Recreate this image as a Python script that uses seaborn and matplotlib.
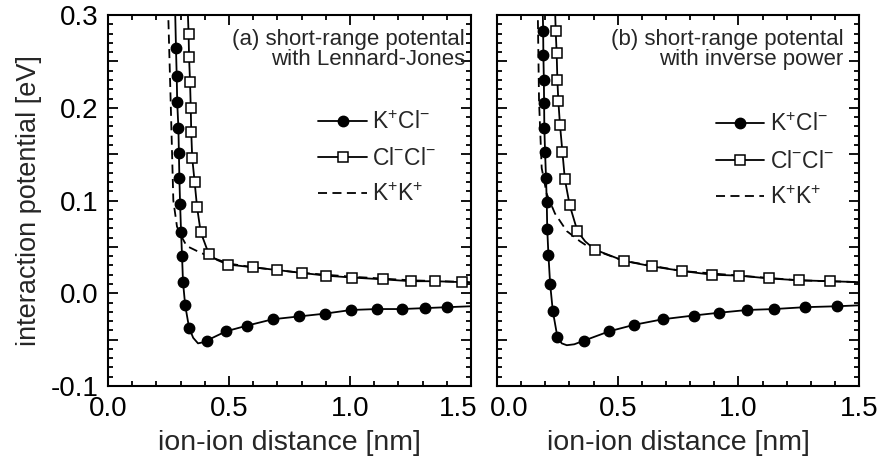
import matplotlib
matplotlib.use("Agg")
import matplotlib.pyplot as plt
from matplotlib.ticker import MultipleLocator, FuncFormatter
from matplotlib.transforms import ScaledTranslation
import seaborn as sns

# (a) Lennard-Jones short-range potential: markers
kcl_a_mx = [0.281, 0.284, 0.286, 0.291, 0.293, 0.295, 0.298, 0.302, 0.306, 0.310, 0.319, 0.335,
            0.408, 0.488, 0.573, 0.681, 0.788, 0.895, 1.005, 1.112, 1.214, 1.309, 1.402]
kcl_a_my = [0.264, 0.234, 0.206, 0.178, 0.151, 0.124, 0.096, 0.066, 0.040, 0.012, -0.013, -0.037,
            -0.051, -0.041, -0.035, -0.028, -0.025, -0.022, -0.018, -0.017, -0.017, -0.016, -0.015]
clcl_a_mx = [0.333, 0.335, 0.339, 0.342, 0.344, 0.348, 0.358, 0.368, 0.383, 0.417,
             0.495, 0.600, 0.700, 0.800, 0.901, 1.007, 1.138, 1.252, 1.352, 1.462]
clcl_a_my = [0.280, 0.255, 0.228, 0.200, 0.174, 0.146, 0.120, 0.093, 0.066, 0.042,
             0.031, 0.028, 0.025, 0.022, 0.019, 0.017, 0.015, 0.013, 0.013, 0.012]
# extra curve points (top exit, well minimum, right end)
kcl_a_cx = [0.277] + kcl_a_mx[:12] + [0.352, 0.372, 0.390] + kcl_a_mx[12:] + [1.5]
kcl_a_cy = [0.31] + kcl_a_my[:12] + [-0.048, -0.054, -0.053] + kcl_a_my[12:] + [-0.014]
clcl_a_cx = [0.329] + clcl_a_mx[:10] + [0.450] + clcl_a_mx[10:] + [1.5]
clcl_a_cy = [0.31] + clcl_a_my[:10] + [0.036] + clcl_a_my[10:] + [0.012]
kk_a_x = [0.247, 0.249, 0.259, 0.270, 0.285, 0.298, 0.325, 0.380, 0.435, 0.500, 0.600, 0.800, 1.000, 1.250, 1.500]
kk_a_y = [0.31, 0.300, 0.207, 0.100, 0.072, 0.064, 0.051, 0.044, 0.038, 0.032, 0.028, 0.022, 0.018, 0.014, 0.012]

# (b) inverse power short-range potential
kcl_b_mx = [0.191, 0.192, 0.194, 0.195, 0.196, 0.199, 0.203, 0.206, 0.208, 0.213, 0.220, 0.231,
            0.250, 0.361, 0.465, 0.568, 0.687, 0.814, 0.919, 1.037, 1.148, 1.275, 1.408]
kcl_b_my = [0.283, 0.257, 0.230, 0.205, 0.178, 0.152, 0.124, 0.098, 0.069, 0.041, 0.010, -0.019,
            -0.047, -0.051, -0.041, -0.034, -0.028, -0.024, -0.021, -0.018, -0.017, -0.015, -0.014]
clcl_b_mx = [0.243, 0.247, 0.250, 0.254, 0.261, 0.271, 0.281, 0.301, 0.333,
             0.406, 0.525, 0.642, 0.767, 0.891, 1.004, 1.127, 1.250, 1.380]
clcl_b_my = [0.283, 0.259, 0.230, 0.207, 0.181, 0.152, 0.123, 0.095, 0.067,
             0.047, 0.035, 0.029, 0.024, 0.020, 0.019, 0.016, 0.014, 0.013]
kcl_b_cx = [0.189] + kcl_b_mx[:13] + [0.268, 0.289, 0.320] + kcl_b_mx[13:] + [1.5]
kcl_b_cy = [0.31] + kcl_b_my[:13] + [-0.054, -0.056, -0.055] + kcl_b_my[13:] + [-0.013]
clcl_b_cx = [0.240] + clcl_b_mx[:9] + [0.365] + clcl_b_mx[9:] + [1.5]
clcl_b_cy = [0.31] + clcl_b_my[:9] + [0.056] + clcl_b_my[9:] + [0.012]
kk_b_x = [0.168, 0.169, 0.174, 0.185, 0.206, 0.240, 0.289, 0.344, 0.385, 0.420, 0.525, 0.767, 1.004, 1.250, 1.500]
kk_b_y = [0.31, 0.300, 0.207, 0.135, 0.107, 0.086, 0.067, 0.056, 0.049, 0.045, 0.035, 0.024, 0.019, 0.014, 0.012]

labels = ["K$^{+}$Cl$^{-}$", "Cl$^{-}$Cl$^{-}$", "K$^{+}$K$^{+}$"]
titles = ["(a) short-range potental\nwith Lennard-Jones",
          "(b) short-range potental\nwith inverse power"]

sns.set_theme(style="ticks")
plt.rcParams["font.family"] = ["Liberation Sans", "DejaVu Sans"]
plt.rcParams["mathtext.fontset"] = "custom"
plt.rcParams["mathtext.rm"] = "Liberation Sans"
plt.rcParams["mathtext.it"] = "Liberation Sans:italic"
plt.rcParams["mathtext.bf"] = "Liberation Sans:bold"
plt.rcParams["axes.unicode_minus"] = False

fig = plt.figure(figsize=(8.83, 4.67), dpi=100)
ax1 = fig.add_axes([0.1223, 0.1734, 0.4111, 0.7944])
ax2 = fig.add_axes([0.5629, 0.1734, 0.4100, 0.7944])

panels = [
    (ax1, kcl_a_cx, kcl_a_cy, kcl_a_mx, kcl_a_my, clcl_a_cx, clcl_a_cy, clcl_a_mx, clcl_a_my,
     kk_a_x, kk_a_y, titles[0], (0.983, 0.962), (0.905, 0.742)),
    (ax2, kcl_b_cx, kcl_b_cy, kcl_b_mx, kcl_b_my, clcl_b_cx, clcl_b_cy, clcl_b_mx, clcl_b_my,
     kk_b_x, kk_b_y, titles[1], (0.957, 0.962), (0.930, 0.735)),
]

lw = 1.3
dash = (0, (5, 3))
for (ax, kcx, kcy, kmx, kmy, ccx, ccy, cmx, cmy, kkx, kky, title, tpos, lpos) in panels:
    sns.lineplot(x=kcx, y=kcy, ax=ax, sort=False, estimator=None, color="black", lw=lw)
    sns.lineplot(x=ccx, y=ccy, ax=ax, sort=False, estimator=None, color="black", lw=lw)
    sns.lineplot(x=kkx, y=kky, ax=ax, sort=False, estimator=None, color="black", lw=lw,
                 linestyle=dash)
    ax.plot(kmx, kmy, "o", color="black", ms=7.5, mec="black", zorder=3)
    ax.plot(cmx, cmy, "s", color="black", mfc="white", mec="black", ms=6.5, mew=1.1, zorder=3)

    # legend proxies
    h1, = ax.plot([], [], "-o", color="black", ms=7.5, lw=lw)
    h2, = ax.plot([], [], "-s", color="black", mfc="white", ms=6.5, mew=1.1, lw=lw)
    h3, = ax.plot([], [], color="black", lw=lw, linestyle=dash)
    ax.legend([h1, h2, h3], labels, loc="upper right", bbox_to_anchor=lpos, frameon=False,
              fontsize=16.5, handlelength=2.1, handletextpad=0.25, labelspacing=0.58,
              borderpad=0, borderaxespad=0)

    ax.text(tpos[0], tpos[1], title, transform=ax.transAxes, ha="right", va="top",
            fontsize=16, linespacing=0.95)

    ax.set_xlim(0, 1.5)
    ax.set_ylim(-0.1, 0.3)
    ax.xaxis.set_major_locator(MultipleLocator(0.5))
    ax.xaxis.set_minor_locator(MultipleLocator(0.1))
    ax.yaxis.set_major_locator(MultipleLocator(0.05))
    ax.yaxis.set_minor_locator(MultipleLocator(0.01))
    ax.xaxis.set_major_formatter(FuncFormatter(lambda v, p: f"{v:.1f}"))
    ax.yaxis.set_major_formatter(
        FuncFormatter(lambda v, p: f"{v:.1f}" if abs(round(v * 10) - v * 10) < 1e-6 else ""))
    ax.tick_params(which="both", direction="in", top=True, right=True, width=1.3,
                   labelsize=20, colors="black")
    ax.tick_params(which="major", length=7, pad=7)
    ax.tick_params(which="minor", length=3.5)
    for s in ax.spines.values():
        s.set_linewidth(1.5)
        s.set_color("black")
    ax.set_xlabel("ion-ion distance [nm]", fontsize=20.5, labelpad=6)
    ax.set_ylabel("")

ax1.set_ylabel("interaction potential [eV]", fontsize=19.5, labelpad=6)
ax2.tick_params(axis="y", labelleft=False)

# pull the touching "1.5" / "0.0" labels apart as in the reference
fig.canvas.draw()
for ax, loc, dx in [(ax1, 1.5, -9), (ax2, 0.0, 9)]:
    for t in ax.xaxis.get_major_ticks():
        if abs(t.get_loc() - loc) < 1e-9:
            t.label1.set_transform(t.label1.get_transform()
                                   + ScaledTranslation(dx / 72, 0, fig.dpi_scale_trans))

fig.savefig("out.png", dpi=100)
